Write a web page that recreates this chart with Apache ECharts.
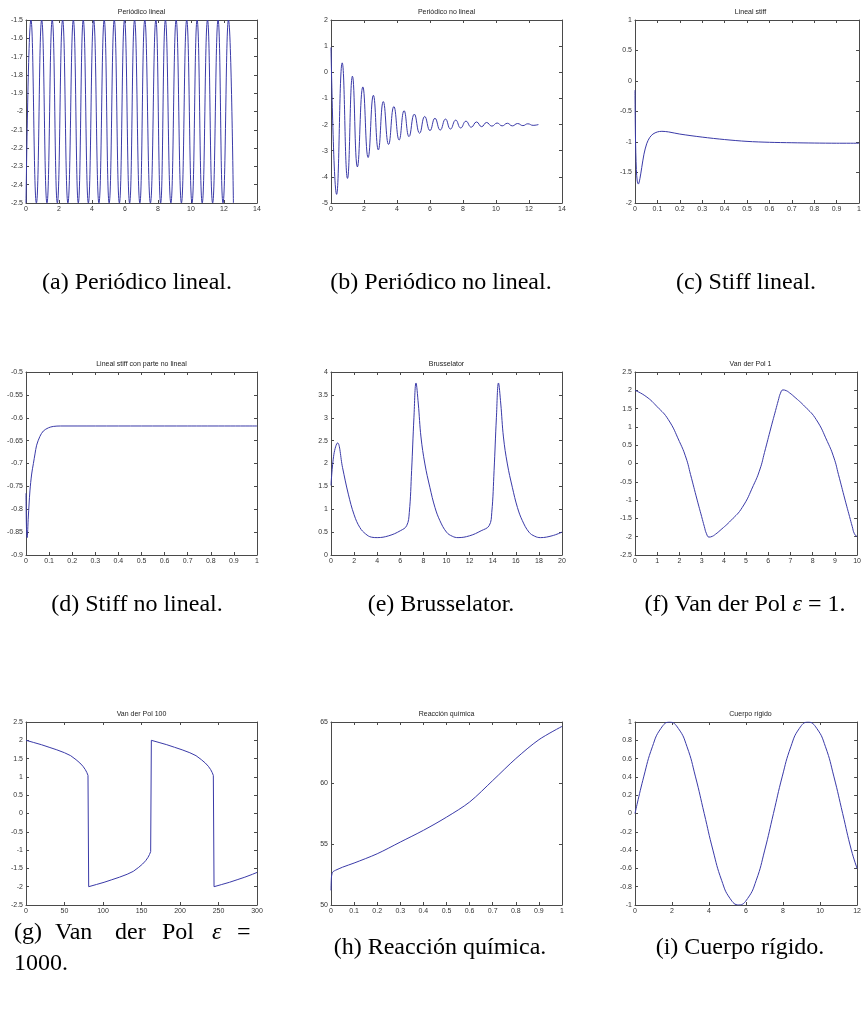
<!DOCTYPE html>
<html>
<head>
<meta charset="utf-8">
<script src="https://cdn.jsdelivr.net/npm/echarts@6/dist/echarts.min.js"></script>
<style>
html,body{margin:0;padding:0;background:#fff;}
#chart{width:864px;height:1009px;}
</style>
</head>
<body>
<div id="chart"></div>
<script>
// (a) Periodico lineal - peaks and troughs
var aX = [0, 0.30, 0.63, 0.95, 1.27, 1.59, 1.90, 2.22, 2.54, 2.87, 3.17, 3.47, 3.78, 4.10, 4.42, 4.74, 5.04, 5.35, 5.66, 5.97, 6.28,
          6.58, 6.90, 7.20, 7.54, 7.87, 8.16, 8.45, 8.78, 9.10, 9.42, 9.74, 10.06, 10.37, 10.68, 11.00, 11.31, 11.64, 11.94, 12.27, 12.57];
var aY = [-2.5, -1.5, -2.5, -1.5, -2.5, -1.5, -2.5, -1.5, -2.5, -1.5, -2.5, -1.5, -2.5, -1.5, -2.5, -1.5, -2.5, -1.5, -2.5, -1.5, -2.5,
          -1.5, -2.5, -1.5, -2.5, -1.5, -2.5, -1.5, -2.5, -1.5, -2.5, -1.5, -2.5, -1.5, -2.5, -1.5, -2.5, -1.5, -2.5, -1.5, -2.5];

// (b) Periodico no lineal
var bX = [0, 0.34, 0.68, 1.00, 1.30, 1.60, 1.93, 2.25, 2.57, 2.87, 3.17, 3.49, 3.81, 4.13, 4.43, 4.73, 5.05, 5.37, 5.68, 6.00, 6.30,
          6.62, 6.94, 7.24, 7.56, 7.86, 8.18, 8.50, 8.82, 9.13, 9.43, 9.75, 10.07, 10.37, 10.69, 10.99, 11.31, 11.63, 11.93, 12.25, 12.57];
var bY = [0.95, -4.67, 0.36, -4.06, -0.15, -3.62, -0.56, -3.26, -0.88, -2.97, -1.12, -2.76, -1.31, -2.59, -1.47, -2.46, -1.60, -2.33, -1.69, -2.23, -1.76,
          -2.21, -1.79, -2.17, -1.83, -2.13, -1.87, -2.10, -1.90, -2.08, -1.92, -2.06, -1.94, -2.05, -1.95, -2.05, -1.96, -2.04, -1.97, -2.03, -2.00];

// (c) Lineal stiff
var cX = [0, 0.002, 0.006, 0.010, 0.015, 0.022, 0.030, 0.040, 0.052, 0.065, 0.080, 0.100, 0.120, 0.150, 0.2, 0.3, 0.4, 0.5, 0.6, 0.7, 0.8, 0.9, 1.0];
var cY = [-0.15, -0.90, -1.45, -1.64, -1.69, -1.60, -1.42, -1.20, -1.03, -0.93, -0.87, -0.835, -0.825, -0.835, -0.87, -0.92, -0.96, -0.99, -1.005, -1.012, -1.017, -1.02, -1.02];

// (d) Lineal stiff con parte no lineal
var dX = [0, 0.002, 0.005, 0.010, 0.017, 0.0245, 0.032, 0.039, 0.046, 0.060, 0.075, 0.097, 0.118, 0.15, 0.3, 0.5, 0.7, 1.0];
var dY = [-0.765, -0.84, -0.862, -0.817, -0.76, -0.723, -0.70, -0.679, -0.66, -0.641, -0.629, -0.622, -0.619, -0.618, -0.618, -0.618, -0.618, -0.618];

// (e) Brusselator
var eX = [0, 0.25, 0.57, 1.0, 1.5, 2.0, 2.5, 3.0, 3.5, 4.0, 5.0, 6.0, 6.55, 6.78, 6.98, 7.18, 7.36, 7.56, 7.79, 8.13, 8.56, 9.0, 9.43, 10.0, 10.5, 11.0, 12.0,
          13.0, 13.69, 13.92, 14.12, 14.32, 14.50, 14.70, 14.93, 15.27, 15.70, 16.14, 16.57, 17.14, 17.64, 18.14, 19.14, 20.0];
var eY = [1.52, 2.2, 2.45, 1.91, 1.33, 0.88, 0.6, 0.46, 0.39, 0.38, 0.42, 0.53, 0.64, 0.93, 1.85, 3.0, 3.76, 3.3, 2.58, 1.99, 1.48, 1.04, 0.75, 0.5, 0.41, 0.38, 0.42,
          0.53, 0.64, 0.93, 1.85, 3.0, 3.76, 3.3, 2.58, 1.99, 1.48, 1.04, 0.75, 0.5, 0.41, 0.38, 0.42, 0.50];

// (f) Van der Pol 1
var fX = [0, 0.5, 1.0, 1.5, 2.0, 2.3, 2.5, 2.8, 3.0, 3.12, 3.22, 3.33, 3.48, 3.63, 3.83, 4.33, 4.83, 5.33, 5.63, 5.83, 6.13, 6.33,
          6.45, 6.55, 6.66, 6.81, 6.96, 7.16, 7.66, 8.16, 8.66, 8.96, 9.16, 9.46, 9.66, 9.78, 9.88, 10.0];
var fY = [2.0, 1.83, 1.55, 1.2, 0.6, 0.15, -0.3, -1.0, -1.45, -1.72, -1.92, -2.01, -1.99, -1.93, -1.83, -1.55, -1.2, -0.6, -0.15, 0.3, 1.0, 1.45,
          1.72, 1.92, 2.01, 1.99, 1.93, 1.83, 1.55, 1.2, 0.6, 0.15, -0.3, -1.0, -1.45, -1.72, -1.92, -2.0];

// (g) Van der Pol 100 (relaxation jumps near t = 81, 163, 244)
var gX = [0, 10, 20, 30, 40, 50, 58, 65, 70, 74, 77, 79, 80.5, 81.2,
          81.4, 91.4, 101.4, 111.4, 121.4, 131.4, 139.4, 146.4, 151.4, 155.4, 158.4, 160.4, 161.9, 162.6,
          162.8, 172.8, 182.8, 192.8, 202.8, 212.8, 220.8, 227.8, 232.8, 236.8, 239.8, 241.8, 243.3, 244.0,
          244.2, 254.2, 264.2, 274.2, 284.2, 294.2, 300];
var gY = [2.0, 1.94, 1.88, 1.81, 1.74, 1.66, 1.58, 1.47, 1.38, 1.29, 1.2, 1.12, 1.04, 1.0,
          -2.0, -1.94, -1.88, -1.81, -1.74, -1.66, -1.58, -1.47, -1.38, -1.29, -1.2, -1.12, -1.04, -1.0,
          2.0, 1.94, 1.88, 1.81, 1.74, 1.66, 1.58, 1.47, 1.38, 1.29, 1.2, 1.12, 1.04, 1.0,
          -2.0, -1.94, -1.88, -1.81, -1.74, -1.66, -1.61];

// (h) Reaccion quimica
var hX = [0, 0.002, 0.005, 0.01, 0.02, 0.05, 0.1, 0.2, 0.3, 0.4, 0.5, 0.6, 0.7, 0.8, 0.9, 1.0];
var hY = [51.2, 52.3, 52.6, 52.75, 52.85, 53.1, 53.44, 54.2, 55.16, 56.12, 57.2, 58.44, 60.2, 62.0, 63.55, 64.64];

// (i) Cuerpo rigido
var iX = [0, 0.47, 0.94, 1.40, 1.87, 2.34, 2.81, 3.27, 3.74, 4.21, 4.68, 5.14, 5.61, 6.08, 6.55, 7.01, 7.48,
          7.95, 8.42, 8.88, 9.35, 9.82, 10.29, 10.75, 11.22, 11.69, 12.0];
var iY = [0, 0.40, 0.73, 0.93, 1.0, 0.93, 0.73, 0.40, 0, -0.40, -0.73, -0.93, -1.0, -0.93, -0.73, -0.40, 0,
          0.40, 0.73, 0.93, 1.0, 0.93, 0.73, 0.40, 0, -0.40, -0.60];

var titles = ['Periódico lineal', 'Periódico no lineal', 'Lineal stiff',
              'Lineal stiff con parte no lineal', 'Brusselator', 'Van der Pol 1',
              'Van der Pol 100', 'Reacción química', 'Cuerpo rígido'];
var xRanges = [[0, 14, 2], [0, 14, 2], [0, 1, 0.1], [0, 1, 0.1], [0, 20, 2], [0, 10, 1], [0, 300, 50], [0, 1, 0.1], [0, 12, 2]];
var yRanges = [[-2.5, -1.5, 0.1], [-5, 2, 1], [-2, 1, 0.5], [-0.9, -0.5, 0.05], [0, 4, 0.5], [-2.5, 2.5, 0.5], [-2.5, 2.5, 0.5], [50, 65, 5], [-1, 1, 0.2]];
var seriesX = [aX, bX, cX, dX, eX, fX, gX, hX, iX];
var seriesY = [aY, bY, cY, dY, eY, fY, gY, hY, iY];

var captions = [
    ['(a) Periódico lineal.', 137, 283], ['(b) Periódico no lineal.', 441, 283], ['(c) Stiff lineal.', 746, 283],
    ['(d) Stiff no lineal.', 137, 605], ['(e) Brusselator.', 441, 605], ['(f) Van der Pol {e|ε} = 1.', 745, 605],
    ['(h) Reacción química.', 440, 948], ['(i) Cuerpo rígido.', 740, 948]
];

(function () {
    // panel boxes
    var colLeft = [26, 331, 635];
    var rowTop = [20, 372, 722];
    var boxW = 231, boxH = 183;
    var smoothing = [0.5, 0.5, 0.3, 0.3, 0.4, 0.5, false, 0.3, 0.5];

    var axisColor = '#4a4a4a';
    var lineColor = '#3a3aa8';
    var smallFont = '"Liberation Sans", Arial, sans-serif';
    var serifFont = '"Liberation Serif", "Times New Roman", serif';
    var capSize = 24;

    var grids = [], xAxes = [], yAxes = [], series = [], graphics = [];

    for (var n = 0; n < 9; n++) {
        var gl = colLeft[n % 3], gt = rowTop[Math.floor(n / 3)];
        grids.push({left: gl, top: gt, width: boxW, height: boxH});
        var xr = xRanges[n], yr = yRanges[n];
        var tick = {inside: true, length: 3, lineStyle: {color: axisColor}};
        var line = {onZero: false, lineStyle: {color: axisColor, width: 1}};
        var lbl = {fontSize: 7, color: '#333', margin: 3, fontFamily: smallFont, showMinLabel: true, showMaxLabel: true};
        xAxes.push({type: 'value', gridIndex: n, position: 'bottom', min: xr[0], max: xr[1], interval: xr[2],
            axisLine: line, axisTick: tick, splitLine: {show: false}, axisLabel: lbl});
        xAxes.push({type: 'value', gridIndex: n, position: 'top', min: xr[0], max: xr[1], interval: xr[2],
            axisLine: line, axisTick: tick, splitLine: {show: false}, axisLabel: {show: false}});
        yAxes.push({type: 'value', gridIndex: n, position: 'left', min: yr[0], max: yr[1], interval: yr[2],
            axisLine: line, axisTick: tick, splitLine: {show: false}, axisLabel: lbl});
        yAxes.push({type: 'value', gridIndex: n, position: 'right', min: yr[0], max: yr[1], interval: yr[2],
            axisLine: line, axisTick: tick, splitLine: {show: false}, axisLabel: {show: false}});
        var xs = seriesX[n], ys = seriesY[n];
        series.push({
            type: 'line', xAxisIndex: n * 2, yAxisIndex: n * 2,
            data: xs.map(function (x, k) { return [x, ys[k]]; }),
            showSymbol: false, symbol: 'none', smooth: smoothing[n],
            lineStyle: {color: lineColor, width: 1}, clip: true
        });
        graphics.push({
            type: 'text', x: gl + boxW / 2, y: gt - 8,
            style: {text: titles[n], fontSize: 7, fontFamily: smallFont, fill: '#222',
                    align: 'center', verticalAlign: 'middle'}
        });
    }

    var rich = {e: {fontSize: capSize, fontFamily: serifFont, fontStyle: 'italic'}};
    captions.forEach(function (c) {
        graphics.push({
            type: 'text', x: c[1], y: c[2],
            style: {text: c[0], fontSize: capSize, fontFamily: serifFont, fill: '#000',
                    align: 'center', verticalAlign: 'middle', rich: rich}
        });
    });
    // (g) caption is justified over two lines
    var gWords = [['(g)', 14], ['Van', 55], ['der', 115], ['Pol', 162], ['{e|ε}', 212], ['=', 237]];
    gWords.forEach(function (w) {
        graphics.push({
            type: 'text', x: w[1], y: 933,
            style: {text: w[0], fontSize: capSize, fontFamily: serifFont, fill: '#000',
                    align: 'left', verticalAlign: 'middle', rich: rich}
        });
    });
    graphics.push({
        type: 'text', x: 14, y: 964,
        style: {text: '1000.', fontSize: capSize, fontFamily: serifFont, fill: '#000',
                align: 'left', verticalAlign: 'middle'}
    });

    var chart = echarts.init(document.getElementById('chart'));
    chart.setOption({
        animation: false,
        backgroundColor: '#fff',
        grid: grids,
        xAxis: xAxes,
        yAxis: yAxes,
        series: series,
        graphic: graphics
    });
})();
</script>
</body>
</html>
